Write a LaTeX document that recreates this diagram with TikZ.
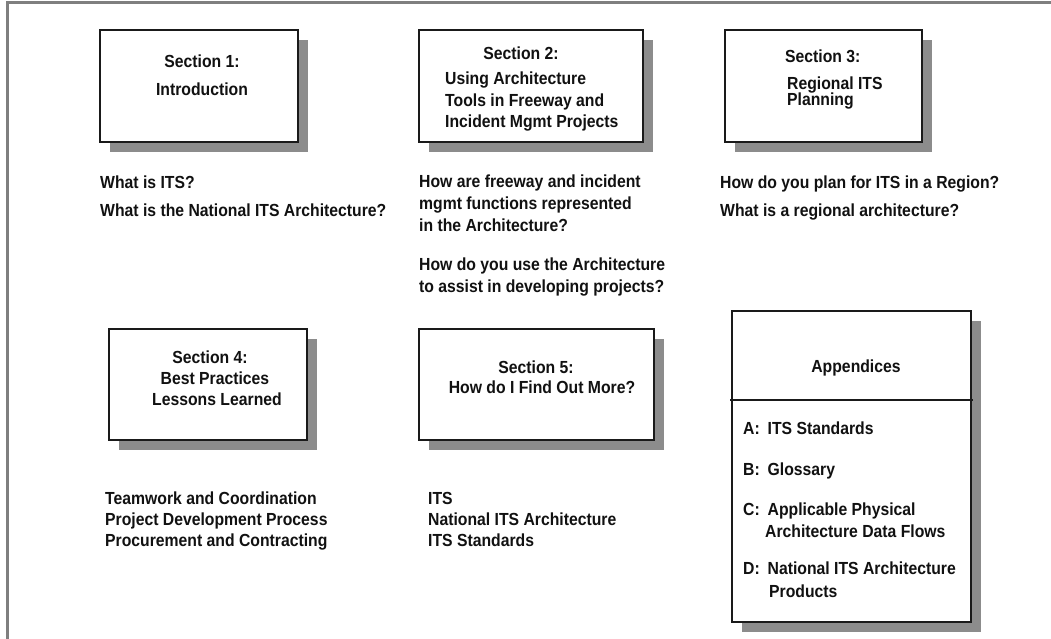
\documentclass[tikz,border=0pt]{standalone}
\usepackage{fontspec}
\setmainfont{Liberation Sans Bold}[FakeStretch=0.9]
\definecolor{shadowgray}{HTML}{8C8C8C}
\definecolor{framegray}{HTML}{7F7F7F}
\definecolor{linegray}{HTML}{1A1A1A}
\definecolor{textgray}{HTML}{111111}
\begin{document}
\begin{tikzpicture}[x=1pt,y=-1pt,
  secbox/.style={draw=linegray, line width=1.4pt, fill=white, anchor=north west, inner sep=0pt, outer sep=0pt},
  shadowbox/.style={fill=shadowgray, anchor=north west, inner sep=0pt, outer sep=0pt},
  txt/.style={anchor=base west, inner sep=0pt, text=textgray, font=\fontsize{17.5}{20}\selectfont},
  ctxt/.style={anchor=base, inner sep=0pt, text=textgray, font=\fontsize{17.5}{20}\selectfont}]
\useasboundingbox (0,0) rectangle (1051,639);
% frame
\draw[framegray, line width=3pt] (7,639) -- (7,3) -- (1051,3);

% Section 1
\node[shadowbox, minimum width=198pt, minimum height=112pt] (s1sh) at (110,40) {};
\node[secbox, minimum width=198pt, minimum height=112pt] (s1) at (100,30) {};
\node[ctxt] (s1a) at (202,68) {Section 1:};
\node[ctxt] (s1b) at (202,96) {Introduction};

% Section 2
\node[shadowbox, minimum width=224pt, minimum height=112pt] (s2sh) at (429,40) {};
\node[secbox, minimum width=224pt, minimum height=112pt] (s2) at (419,30) {};
\node[ctxt] (s2a) at (521,60) {Section 2:};
\node[txt] (s2b) at (445,85) {Using Architecture};
\node[txt] (s2c) at (445,107) {Tools in Freeway and};
\node[txt] (s2d) at (445,128) {Incident Mgmt Projects};

% Section 3
\node[shadowbox, minimum width=197pt, minimum height=112pt] (s3sh) at (735,40) {};
\node[secbox, minimum width=197pt, minimum height=112pt] (s3) at (725,30) {};
\node[txt] (s3a) at (785,63) {Section 3:};
\node[txt] (s3b) at (787,90) {Regional ITS};
\node[txt] (s3c) at (787,106) {Planning};

% questions row 1
\node[txt] (q1a) at (100,189) {What is ITS?};
\node[txt] (q1b) at (100,216) {What is the National ITS Architecture?};
\node[txt] (q2a) at (419,188) {How are freeway and incident};
\node[txt] (q2b) at (419,209.5) {mgmt functions represented};
\node[txt] (q2c) at (419,231) {in the Architecture?};
\node[txt] (q2d) at (419,270) {How do you use the Architecture};
\node[txt] (q2e) at (419,292.5) {to assist in developing projects?};
\node[txt] (q3a) at (720,189) {How do you plan for ITS in a Region?};
\node[txt] (q3b) at (720,216) {What is a regional architecture?};

% Section 4
\node[shadowbox, minimum width=198pt, minimum height=111pt] (s4sh) at (119,339) {};
\node[secbox, minimum width=198pt, minimum height=111pt] (s4) at (109,329) {};
\node[ctxt] (s4a) at (210,363) {Section 4:};
\node[ctxt] (s4b) at (215,384) {Best Practices};
\node[ctxt] (s4c) at (217,405) {Lessons Learned};

% Section 5
\node[shadowbox, minimum width=235pt, minimum height=111pt] (s5sh) at (429,339) {};
\node[secbox, minimum width=235pt, minimum height=111pt] (s5) at (419,329) {};
\node[ctxt] (s5a) at (536,373) {Section 5:};
\node[ctxt] (s5b) at (542,393) {How do I Find Out More?};

% Appendices
\node[shadowbox, minimum width=239pt, minimum height=311pt] (appsh) at (742,321) {};
\node[secbox, minimum width=239pt, minimum height=311pt] (app) at (732,311) {};
\coordinate (divL) at (730,400);
\coordinate (divR) at (973,400);
\draw[linegray, line width=1.4pt] (divL) -- (divR);
\node[ctxt] (appt) at (856,372) {Appendices};
\node[txt] (apA) at (743,434) {A:\hspace{0.45em}ITS Standards};
\node[txt] (apB) at (743,475) {B:\hspace{0.45em}Glossary};
\node[txt] (apC1) at (743,515) {C:\hspace{0.45em}Applicable Physical};
\node[txt] (apC2) at (765,537) {Architecture Data Flows};
\node[txt] (apD1) at (743,574) {D:\hspace{0.45em}National ITS Architecture};
\node[txt] (apD2) at (769,597) {Products};

% bottom lists
\node[txt] (l1a) at (105,504) {Teamwork and Coordination};
\node[txt] (l1b) at (105,525) {Project Development Process};
\node[txt] (l1c) at (105,546) {Procurement and Contracting};
\node[txt] (l2a) at (428,504) {ITS};
\node[txt] (l2b) at (428,525) {National ITS Architecture};
\node[txt] (l2c) at (428,546) {ITS Standards};
\end{tikzpicture}
\end{document}
